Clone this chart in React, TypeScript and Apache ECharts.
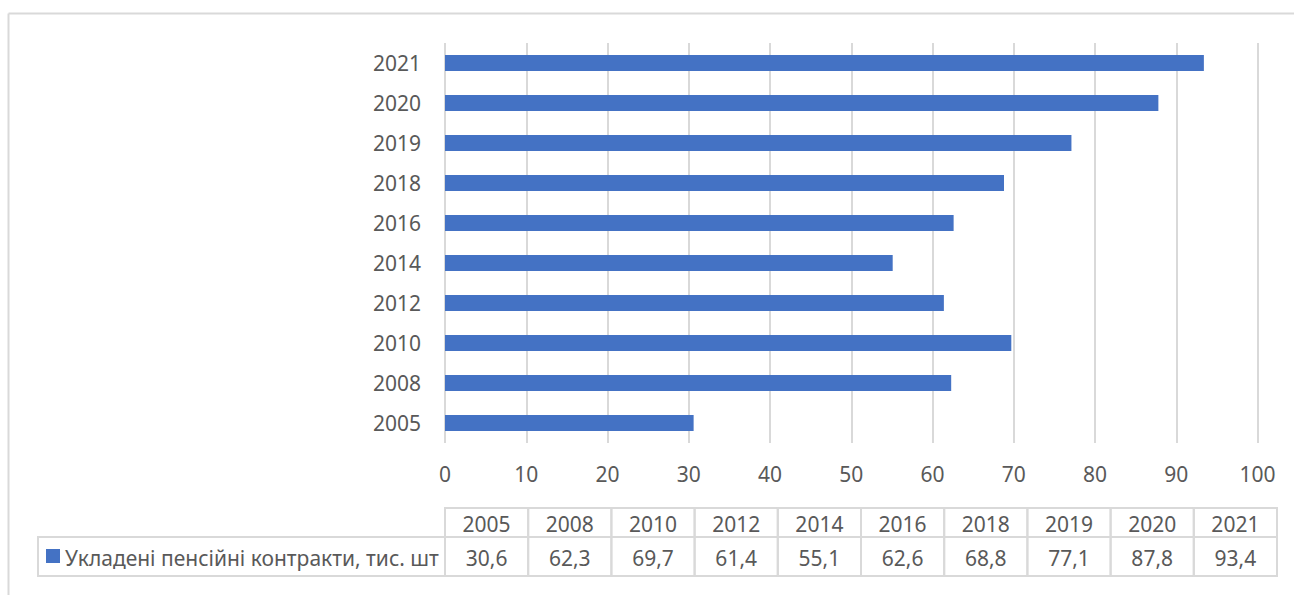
import React, { useEffect, useRef } from "react";
import * as echarts from "echarts";

const years = ["2005", "2008", "2010", "2012", "2014", "2016", "2018", "2019", "2020", "2021"];
const contracts = [30.6, 62.3, 69.7, 61.4, 55.1, 62.6, 68.8, 77.1, 87.8, 93.4];
const seriesName = "Укладені пенсійні контракти, тис. шт";
const xTicks = { min: 0, max: 100, interval: 10 };

const W = 1294;
const H = 595;
const FONT = "'Noto Sans', sans-serif";
const FS = 21;
const TEXT = "#595959";
const LINE = "#D9D9D9";
const BAR = "#4472C4";

const fmt = (v: number) => v.toFixed(1).replace(".", ",");

export default function App() {
  const ref = useRef<HTMLDivElement>(null);
  useEffect(() => {
    document.body.style.margin = "0";
    if (!ref.current) return;
    const chart = echarts.init(ref.current, undefined, { renderer: "svg" });

    const tableLeft = 445;
    const tableRight = 1277;
    const colW = (tableRight - tableLeft) / years.length;
    const headTop = 508;
    const rowMid = 537;
    const rowBot = 576;
    const legendLeft = 38;

    const g: any[] = [];
    // outer frame
    g.push({ type: "line", shape: { x1: 8.5, y1: 13.5, x2: W + 5, y2: 13.5 }, style: { stroke: LINE, lineWidth: 2 } });
    g.push({ type: "line", shape: { x1: 8.5, y1: 13.5, x2: 8.5, y2: H + 5 }, style: { stroke: LINE, lineWidth: 2 } });

    years.forEach((y, i) => {
      const x = tableLeft + i * colW;
      g.push({
        type: "rect",
        shape: { x, y: headTop, width: colW, height: rowMid - headTop },
        style: { fill: "none", stroke: LINE, lineWidth: 2 },
      });
      g.push({
        type: "rect",
        shape: { x, y: rowMid, width: colW, height: rowBot - rowMid },
        style: { fill: "none", stroke: LINE, lineWidth: 2 },
      });
      g.push({
        type: "text",
        x: x + colW / 2,
        y: (headTop + rowMid) / 2 + 1,
        style: { text: y, fill: TEXT, font: `${FS}px ${FONT}`, align: "center", verticalAlign: "middle" },
      });
      g.push({
        type: "text",
        x: x + colW / 2,
        y: (rowMid + rowBot) / 2 + 1,
        style: { text: fmt(contracts[i]), fill: TEXT, font: `${FS}px ${FONT}`, align: "center", verticalAlign: "middle" },
      });
    });
    g.push({
      type: "rect",
      shape: { x: legendLeft, y: rowMid, width: tableLeft - legendLeft, height: rowBot - rowMid },
      style: { fill: "none", stroke: LINE, lineWidth: 2 },
    });
    g.push({
      type: "rect",
      shape: { x: 46, y: 549, width: 14, height: 14 },
      style: { fill: BAR },
    });
    g.push({
      type: "text",
      x: 65,
      y: (rowMid + rowBot) / 2 + 1,
      style: { text: seriesName, fill: TEXT, font: `${FS}px ${FONT}`, align: "left", verticalAlign: "middle" },
    });

    chart.setOption({
      animation: false,
      backgroundColor: "#ffffff",
      grid: { left: 445, right: W - 1257.5, top: 43, bottom: H - 443, containLabel: false },
      xAxis: {
        type: "value",
        min: xTicks.min,
        max: xTicks.max,
        interval: xTicks.interval,
        axisLine: { show: false },
        axisTick: { show: false },
        splitLine: { show: true, lineStyle: { color: LINE, width: 2 } },
        axisLabel: { color: TEXT, fontSize: FS, fontFamily: FONT, margin: 20 },
      },
      yAxis: {
        type: "category",
        data: years,
        axisLine: { show: false },
        axisTick: { show: false },
        splitLine: { show: false },
        axisLabel: { color: TEXT, fontSize: FS, fontFamily: FONT, margin: 24 },
      },
      series: [
        {
          type: "bar",
          name: seriesName,
          data: contracts,
          barWidth: 16,
          itemStyle: { color: BAR },
        },
      ],
      graphic: g,
    });
    return () => chart.dispose();
  }, []);
  return <div ref={ref} style={{ width: W, height: H }} />;
}
